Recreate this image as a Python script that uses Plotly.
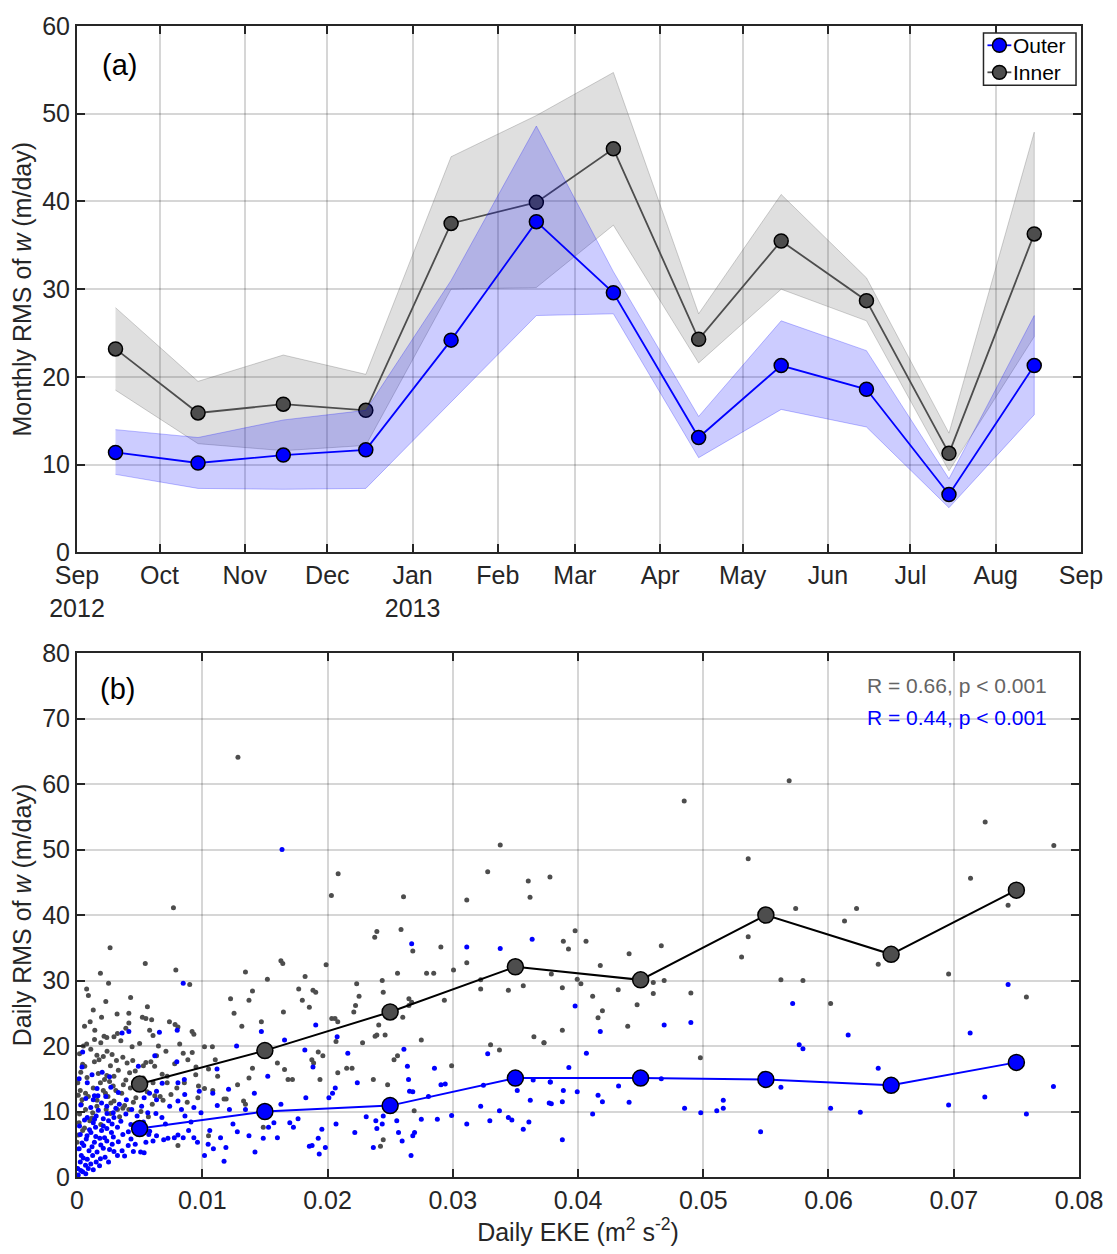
import plotly.graph_objects as go

# ---------------- (a) monthly RMS of w ----------------
months = ["2012-09-15", "2012-10-15", "2012-11-15", "2012-12-15", "2013-01-15", "2013-02-15",
          "2013-03-15", "2013-04-15", "2013-05-15", "2013-06-15", "2013-07-15", "2013-08-15"]

outer_rms = [11.4, 10.2, 11.1, 11.7, 24.2, 37.7, 29.6, 13.1, 21.3, 18.6, 6.6, 21.3]
outer_hi = [14.0, 13.1, 15.1, 16.2, 31.0, 48.6, 32.0, 15.5, 26.4, 23.0, 8.4, 27.0]
outer_lo = [8.9, 7.3, 7.2, 7.3, 17.2, 27.0, 27.2, 10.8, 16.3, 14.3, 5.1, 15.7]

inner_rms = [23.2, 15.9, 16.9, 16.2, 37.5, 39.9, 46.0, 24.3, 35.5, 28.7, 11.3, 36.3]
inner_hi = [27.9, 19.5, 22.5, 20.3, 45.1, 49.8, 54.7, 27.2, 40.8, 31.3, 13.6, 47.9]
inner_lo = [18.5, 12.4, 11.6, 12.2, 30.0, 30.2, 37.3, 21.6, 30.0, 26.4, 9.3, 24.6]

month_ticks = ["2012-09-01", "2012-10-01", "2012-11-01", "2012-12-01", "2013-01-01", "2013-02-01",
               "2013-03-01", "2013-04-01", "2013-05-01", "2013-06-01", "2013-07-01", "2013-08-01",
               "2013-09-01"]
month_labels = ["Sep<br>2012", "Oct", "Nov", "Dec", "Jan<br>2013", "Feb", "Mar", "Apr", "May",
                "Jun", "Jul", "Aug", "Sep"]

legend_names = ["Outer", "Inner"]

# ---------------- (b) daily RMS of w vs daily EKE ----------------
eke_bins = [0.005, 0.015, 0.025, 0.035, 0.045, 0.055, 0.065, 0.075]
inner_bin_rms = [14.2, 19.3, 25.2, 32.1, 30.1, 40.0, 34.0, 43.8]
outer_bin_rms = [7.4, 10.0, 10.9, 15.1, 15.1, 14.9, 14.0, 17.5]

inner_daily = [
    (0.00264, 35.0), (0.0077, 41.1), (0.01285, 64.1), (0.02031, 43.0), (0.02085, 46.3),
    (0.02377, 36.6), (0.02394, 37.5), (0.02587, 37.8), (0.02607, 42.8), (0.02681, 34.5),
    (0.02905, 35.1), (0.03112, 42.3), (0.03279, 46.6), (0.03379, 50.7), (0.03603, 45.2),
    (0.03617, 42.7), (0.03776, 45.8), (0.04848, 57.4), (0.05686, 60.5), (0.05359, 48.6),
    (0.07251, 54.2), (0.07799, 50.6), (0.07134, 45.6), (0.07434, 41.5), (0.05738, 41.0),
    (0.06224, 41.0), (0.06128, 39.1), (0.03883, 36.0), (0.03977, 37.6), (0.04064, 36.0),
    (0.03924, 34.8), (0.04408, 34.1), (0.04665, 35.3), (0.05359, 36.7), (0.05306, 33.6),
    (0.03787, 31.0), (0.03994, 30.2), (0.04023, 29.5), (0.03875, 28.9), (0.04117, 27.6),
    (0.04321, 28.6), (0.0416, 24.3), (0.04195, 25.4), (0.03875, 22.4), (0.04397, 23.0),
    (0.04472, 26.3), (0.04178, 32.3), (0.04601, 29.7), (0.04688, 30.0), (0.04601, 28.0),
    (0.04901, 28.1), (0.03729, 20.5), (0.04977, 18.2), (0.0562, 30.1), (0.05796, 30.0),
    (0.06017, 26.5), (0.06397, 32.5), (0.06959, 31.0), (0.0758, 27.5),
    (0.00545, 32.6), (0.00077, 28.7), (0.00091, 27.7), (0.00187, 31.1), (0.00252, 29.6),
    (0.00428, 27.4), (0.00789, 31.6), (0.009, 29.4), (0.00105, 23.7), (0.00196, 24.4),
    (0.00142, 22.4), (0.00216, 21.5), (0.00238, 21.3), (0.00295, 21.4), (0.00323, 21.9),
    (0.00414, 25.0), (0.00414, 23.5), (0.00522, 24.4), (0.0055, 24.2), (0.00562, 26.0),
    (0.00596, 24.0), (0.00607, 21.6), (0.00919, 22.2), (0.00933, 21.8), (0.00806, 22.9),
    (0.00738, 23.7), (0.00783, 23.3), (0.00051, 20.0), (0.00077, 20.3), (0.00062, 16.9),
    (0.00045, 17.2), (0.00139, 17.6), (0.00159, 18.6), (0.0021, 18.4), (0.00176, 17.9),
    (0.00267, 17.0), (0.00238, 15.5), (0.00295, 15.4), (0.00315, 17.8), (0.00366, 18.3),
    (0.004, 17.4), (0.00445, 17.8), (0.00465, 16.2), (0.0055, 17.5), (0.0059, 17.6),
    (0.00635, 18.5), (0.00006, 14.4), (0.00026, 13.2), (0.00068, 12.8), (0.0013, 13.6),
    (0.00187, 14.4), (0.00227, 12.8), (0.00247, 12.3), (0.00289, 13.9), (0.00295, 11.6),
    (0.00357, 12.8), (0.0038, 10.9), (0.00426, 13.6), (0.00499, 13.8), (0.00528, 15.1),
    (0.00607, 14.4), (0.00621, 12.4), (0.00687, 11.7), (0.00664, 12.3), (0.00601, 11.1),
    (0.00034, 11.1), (0.00068, 10.3), (0.00125, 9.8), (0.00159, 10.8), (0.00233, 10.3),
    (0.00267, 9.7), (0.00323, 10.3), (0.00366, 10.5), (0.00414, 10.3), (0.00017, 8.3),
    (0.00045, 7.1), (0.00011, 6.4), (0.0, 5.3), (0.00102, 8.6), (0.01018, 19.9),
    (0.01081, 19.9), (0.0105, 16.5), (0.01104, 17.9), (0.00948, 15.6), (0.0097, 13.9),
    (0.01018, 13.5), (0.01084, 13.2), (0.00885, 17.9), (0.00848, 18.9), (0.00965, 12.1),
    (0.00857, 14.4), (0.00797, 13.6), (0.0072, 14.4), (0.0072, 15.4), (0.01123, 15.4),
    (0.01174, 11.9), (0.01191, 11.9), (0.01226, 27.2), (0.01254, 25.0), (0.01345, 31.3),
    (0.01373, 27.0), (0.01401, 28.4), (0.01472, 23.7), (0.0152, 30.2), (0.01316, 23.0),
    (0.01401, 16.6), (0.01282, 14.1), (0.01373, 15.1), (0.0133, 11.6), (0.01345, 11.1),
    (0.016, 17.4), (0.01648, 25.2), (0.01657, 16.4), (0.01685, 14.9), (0.0172, 14.9),
    (0.01628, 33.0), (0.01643, 32.6), (0.0177, 28.7), (0.01799, 27.0), (0.01821, 30.6),
    (0.01855, 25.9), (0.01884, 28.5), (0.01906, 28.2), (0.01875, 17.9), (0.01889, 17.4),
    (0.01926, 19.1), (0.01963, 18.5), (0.0194, 14.9), (0.01989, 32.4), (0.02034, 24.2),
    (0.0206, 24.2), (0.02068, 20.7), (0.02082, 23.7), (0.02082, 15.9), (0.0221, 25.2),
    (0.02224, 26.2), (0.02233, 29.5), (0.02252, 27.6), (0.02196, 16.6), (0.0228, 20.5),
    (0.0238, 21.5), (0.02394, 21.7), (0.0246, 21.7), (0.02366, 14.9), (0.02437, 30.0),
    (0.02445, 28.2), (0.0248, 14.1), (0.02531, 17.9), (0.02559, 18.5), (0.02559, 31.1),
    (0.02601, 24.4), (0.0265, 27.2), (0.0265, 26.2), (0.02672, 26.7), (0.02692, 10.1),
    (0.02749, 20.9), (0.02791, 31.1), (0.02848, 31.1), (0.02933, 27.0), (0.02991, 17.0),
    (0.03006, 31.6), (0.03112, 32.7), (0.03223, 30.1), (0.03223, 28.7), (0.03302, 20.2),
    (0.03373, 19.4), (0.03444, 28.5), (0.03563, 29.2), (0.03648, 21.4), (0.03728, 20.5),
    (0.02445, 5.7), (0.02423, 4.7), (0.02409, 23.2), (0.0105, 6.3), (0.00806, 4.8),
    (0.01487, 7.6), (0.02153, 16.6),
    (0.0003, 16.0), (0.0008, 15.2), (0.0011, 19.5), (0.0014, 21.0), (0.0017, 15.8),
    (0.0019, 20.5), (0.0021, 13.2), (0.0024, 19.2), (0.0026, 14.6), (0.0028, 18.7),
    (0.0031, 13.2), (0.0033, 16.3), (0.0035, 20.8), (0.0037, 14.1), (0.0039, 22.7),
    (0.0042, 15.9), (0.0044, 19.9), (0.0047, 12.1), (0.005, 20.4), (0.0053, 17.0),
    (0.0056, 13.0), (0.0058, 22.4), (0.0062, 16.9), (0.0065, 20.0), (0.0068, 15.7),
    (0.0071, 19.2), (0.0075, 12.6), (0.0078, 17.3), (0.0082, 20.3), (0.0088, 11.4),
    (0.0092, 19.0), (0.0095, 16.8), (0.0004, 11.8), (0.0009, 12.3), (0.0012, 9.0),
    (0.0016, 11.7), (0.0019, 8.0), (0.0022, 14.9), (0.0027, 11.3), (0.0034, 9.2),
    (0.0039, 14.8), (0.0045, 11.4), (0.0051, 10.0), (0.0057, 9.2), (0.0002, 9.6),
    (0.0006, 7.5), (0.0001, 12.5), (0.0013, 25.5), (0.0023, 26.8), (0.0032, 24.9),
    (0.0006, 23.0), (0.0002, 18.8),
]

outer_daily = [
    (0.01637, 50.0), (0.02672, 35.6), (0.03112, 35.1), (0.03379, 34.9), (0.03634, 36.3),
    (0.03977, 26.1), (0.04178, 22.2), (0.04688, 23.2), (0.04901, 23.6), (0.04067, 18.9),
    (0.03927, 16.7), (0.03778, 14.5), (0.03883, 13.2), (0.03994, 13.0), (0.03787, 11.2),
    (0.03875, 11.5), (0.0416, 12.5), (0.04195, 11.5), (0.04117, 9.6), (0.04324, 13.9),
    (0.04408, 11.4), (0.04665, 15.0), (0.04851, 10.5), (0.0498, 9.8), (0.05108, 10.1),
    (0.0516, 10.5), (0.0516, 11.7), (0.03875, 5.7), (0.05458, 6.9), (0.0562, 13.7),
    (0.05714, 26.5), (0.05766, 20.2), (0.05796, 19.6), (0.06157, 21.7), (0.06017, 10.5),
    (0.06254, 9.9), (0.06397, 16.6), (0.06959, 11.0), (0.07131, 22.0), (0.07248, 12.2),
    (0.07434, 29.4), (0.0758, 9.6), (0.07796, 13.8),
    (0.00006, 1.3), (0.00026, 2.3), (0.00045, 0.8), (0.00068, 1.8), (0.00034, 3.3),
    (0.00082, 2.7), (0.00017, 4.3), (0.00054, 4.8), (0.00096, 4.0), (0.00125, 3.3),
    (0.00153, 2.3), (0.00187, 2.8), (0.00224, 3.0), (0.00252, 2.3), (0.00295, 3.9),
    (0.00323, 3.3), (0.0038, 3.2), (0.00139, 5.3), (0.00182, 5.9), (0.00238, 5.5),
    (0.00281, 5.0), (0.00074, 5.8), (0.00026, 6.5), (0.00111, 6.8), (0.00148, 7.6),
    (0.00196, 7.1), (0.00238, 7.4), (0.00275, 6.8), (0.00323, 7.6), (0.00366, 6.5),
    (0.00409, 4.8), (0.00431, 5.8), (0.00465, 5.0), (0.00508, 3.8), (0.00536, 3.7),
    (0.0055, 5.3), (0.00607, 5.5), (0.00573, 6.5), (0.00635, 6.3), (0.00692, 5.7),
    (0.00726, 5.9), (0.00777, 6.0), (0.00806, 6.4), (0.00848, 6.0), (0.00891, 7.1),
    (0.00933, 6.0), (0.00962, 5.3), (0.01018, 3.3), (0.01047, 5.0), (0.01089, 4.3),
    (0.01174, 2.4), (0.01189, 4.5), (0.01146, 6.0), (0.00082, 9.1), (0.0013, 8.3),
    (0.00153, 9.3), (0.0021, 8.9), (0.00252, 8.6), (0.00295, 9.1), (0.0013, 11.8),
    (0.00167, 12.4), (0.00196, 11.3), (0.00238, 10.8), (0.00289, 9.8), (0.00338, 11.1),
    (0.00394, 11.8), (0.00437, 10.3), (0.0048, 9.3), (0.00516, 10.8), (0.00536, 12.1),
    (0.00565, 9.8), (0.00579, 12.8), (0.00635, 11.8), (0.00678, 9.1), (0.00706, 8.1),
    (0.00806, 11.6), (0.00834, 10.3), (0.00862, 9.3), (0.00933, 10.6), (0.00017, 15.0),
    (0.00082, 14.4), (0.00139, 12.4), (0.00201, 16.0), (0.0036, 22.0), (0.00414, 22.2),
    (0.00658, 22.1), (0.00621, 18.5), (0.008, 22.4), (0.00797, 17.6), (0.00806, 14.4),
    (0.00857, 14.9), (0.00848, 29.6), (0.00045, 19.1), (0.00635, 13.1), (0.00976, 13.1),
    (0.01084, 12.8), (0.01118, 16.5), (0.01217, 10.3), (0.01245, 8.1), (0.01274, 20.0),
    (0.01345, 10.3), (0.01373, 6.3), (0.01416, 12.8), (0.01421, 3.8), (0.01472, 22.2),
    (0.01487, 5.9), (0.01523, 15.4), (0.01529, 7.6), (0.01572, 8.3), (0.016, 6.0),
    (0.01628, 11.1), (0.01657, 20.9), (0.01699, 8.3), (0.01728, 7.6), (0.01765, 8.9),
    (0.01819, 19.4), (0.01827, 12.1), (0.01855, 4.7), (0.01877, 4.8), (0.01884, 16.8),
    (0.01906, 23.2), (0.01926, 5.9), (0.01934, 3.5), (0.01955, 7.3), (0.01983, 4.5),
    (0.02011, 12.1), (0.0204, 12.8), (0.02062, 13.6), (0.02077, 21.4), (0.02068, 8.1),
    (0.02162, 18.9), (0.02218, 6.8), (0.02238, 14.4), (0.02309, 9.2), (0.02366, 4.5),
    (0.02386, 8.6), (0.02394, 7.4), (0.02437, 8.1), (0.02445, 9.3), (0.02494, 10.8),
    (0.02553, 8.6), (0.02567, 6.8), (0.02596, 5.5), (0.0261, 19.5), (0.02638, 16.9),
    (0.02647, 14.9), (0.02655, 13.1), (0.02681, 13.0), (0.02667, 3.3), (0.02681, 6.3),
    (0.02695, 6.8), (0.02749, 8.8), (0.02806, 12.3), (0.02854, 16.6), (0.02877, 8.8),
    (0.02906, 14.1), (0.0294, 14.2), (0.02991, 9.4), (0.03112, 8.1), (0.03223, 10.8),
    (0.03245, 14.0), (0.03279, 18.8), (0.03296, 8.6), (0.03373, 10.1), (0.03444, 9.1),
    (0.03472, 8.7), (0.03515, 13.2), (0.03563, 7.3), (0.03608, 8.4), (0.03619, 11.7),
    (0.03642, 14.8), (0.03779, 14.5), (0.0377, 11.3),
    (0.0001, 0.3), (0.0003, 1.0), (0.0005, 2.9), (0.0007, 0.5), (0.0009, 1.3),
    (0.0011, 2.0), (0.0013, 1.1), (0.0016, 3.8), (0.0018, 1.7), (0.0021, 4.4),
    (0.0004, 5.2), (0.0008, 6.3), (0.0012, 4.6), (0.0015, 6.2), (0.0019, 4.9),
    (0.0022, 6.0), (0.0026, 4.2), (0.0029, 6.1), (0.0033, 5.4), (0.0036, 4.0),
    (0.0041, 6.9), (0.0045, 3.9), (0.0002, 7.8), (0.0006, 8.7), (0.001, 7.2),
    (0.0014, 8.8), (0.0017, 10.2), (0.0021, 7.8), (0.0024, 9.7), (0.0028, 8.1),
    (0.0031, 10.5), (0.0035, 8.5), (0.0039, 9.6), (0.0043, 8.0), (0.0047, 7.3),
    (0.0053, 8.4), (0.0058, 7.0), (0.0063, 9.7), (0.0003, 11.0), (0.0007, 12.0),
    (0.0011, 10.6), (0.0016, 13.5), (0.0023, 12.3), (0.0027, 13.7), (0.0033, 12.9),
    (0.0047, 13.9), (0.0053, 14.7), (0.0004, 16.8), (0.0012, 15.6), (0.0026, 15.3),
    (0.0049, 16.9), (0.0068, 14.3), (0.0074, 10.8), (0.0086, 12.6), (0.0091, 8.4),
    (0.0099, 9.8), (0.0106, 7.1), (0.0112, 10.9), (0.0121, 13.4), (0.0128, 6.9),
]

stats_inner = "R = 0.66, p < 0.001"
stats_outer = "R = 0.44, p < 0.001"

BLUE = "rgb(0,0,255)"
DARK = "#4d4d4d"
AX = "#262626"
FONT = "Liberation Sans, Arial, Helvetica, sans-serif"
FS = 25

fig = go.Figure()

# monthly bands and lines: inner band + line first, outer band drawn over them
fig.add_trace(go.Scatter(
    x=months + months[::-1], y=inner_hi + inner_lo[::-1], fill="toself",
    fillcolor="rgba(77,77,77,0.18)", line=dict(color="rgba(77,77,77,0.25)", width=1),
    mode="lines", hoverinfo="skip", showlegend=False, xaxis="x", yaxis="y"))
fig.add_trace(go.Scatter(
    x=months, y=inner_rms, mode="lines+markers", name=legend_names[1],
    line=dict(color=DARK, width=1.8),
    marker=dict(size=14, color=DARK, line=dict(color="black", width=1.5)),
    showlegend=False, xaxis="x", yaxis="y"))
fig.add_trace(go.Scatter(
    x=months + months[::-1], y=outer_hi + outer_lo[::-1], fill="toself",
    fillcolor="rgba(0,0,255,0.2)", line=dict(color="rgba(0,0,255,0.25)", width=1),
    mode="lines", hoverinfo="skip", showlegend=False, xaxis="x", yaxis="y"))
fig.add_trace(go.Scatter(
    x=months, y=outer_rms, mode="lines+markers", name=legend_names[0],
    line=dict(color=BLUE, width=1.8),
    marker=dict(size=14, color=BLUE, line=dict(color="black", width=1.5)),
    showlegend=False, xaxis="x", yaxis="y"))

# daily scatter
fig.add_trace(go.Scatter(
    x=[p[0] for p in inner_daily], y=[p[1] for p in inner_daily], mode="markers",
    marker=dict(size=5, color="#4d4d4d"), showlegend=False, xaxis="x2", yaxis="y2"))
fig.add_trace(go.Scatter(
    x=[p[0] for p in outer_daily], y=[p[1] for p in outer_daily], mode="markers",
    marker=dict(size=5, color=BLUE), showlegend=False, xaxis="x2", yaxis="y2"))

# binned means
fig.add_trace(go.Scatter(
    x=eke_bins, y=inner_bin_rms, mode="lines+markers", line=dict(color="black", width=2),
    marker=dict(size=16, color=DARK, line=dict(color="black", width=1.5)),
    showlegend=False, xaxis="x2", yaxis="y2"))
fig.add_trace(go.Scatter(
    x=eke_bins, y=outer_bin_rms, mode="lines+markers", line=dict(color=BLUE, width=2),
    marker=dict(size=16, color=BLUE, line=dict(color="black", width=1.5)),
    showlegend=False, xaxis="x2", yaxis="y2"))

axis_style = dict(
    showline=True, linecolor=AX, linewidth=2, mirror="ticks",
    ticks="inside", ticklen=8, tickwidth=1.5, tickcolor=AX,
    showgrid=True, gridcolor="rgba(0,0,0,0.16)", gridwidth=1.5,
    zeroline=False, tickfont=dict(size=FS, color=AX, family=FONT),
)

fig.update_layout(
    width=1117, height=1254,
    margin=dict(l=77, r=31, t=19, b=72),
    paper_bgcolor="white", plot_bgcolor="white",
    font=dict(family=FONT, color=AX, size=FS),
    showlegend=False,
    xaxis=dict(axis_style, type="date", domain=[0, 1], anchor="y",
               range=["2012-09-01", "2013-09-01"],
               tickmode="array", tickvals=month_ticks, ticktext=month_labels),
    yaxis=dict(axis_style, domain=[0.5426, 1.0], anchor="x", range=[0, 60], dtick=10,
               title=dict(text="Monthly RMS of <i>w</i> (m/day)", standoff=3,
                          font=dict(size=FS, color=AX))),
    xaxis2=dict(axis_style, domain=[0, 0.998], anchor="y2", range=[0, 0.08], dtick=0.01,
                title=dict(text="Daily EKE (m<sup>2</sup> s<sup>-2</sup>)", standoff=10,
                           font=dict(size=FS, color=AX))),
    yaxis2=dict(axis_style, domain=[0, 0.4552], anchor="x2", range=[0, 80], dtick=10,
                title=dict(text="Daily RMS of <i>w</i> (m/day)", standoff=3,
                           font=dict(size=FS, color=AX))),
)

# legend box for panel (a), placed in the axis domain of the top panel
PW, PH = 1009.0, 532.0   # top panel size in pixels
def dx(px):
    return (px - 77) / PW
def dy(py):
    return 1 - (py - 19) / PH

LEG_FS = 21
row_gap = LEG_FS * 1.3
row_top = 38.5
legend_rows = [row_top, row_top + row_gap]
legend_cols = [BLUE, DARK]

shapes = [dict(type="rect", xref="x domain", yref="y domain",
               x0=dx(988), x1=dx(1081), y0=dy(row_top + row_gap + 13), y1=dy(26),
               fillcolor="white", line=dict(color=AX, width=1.5), layer="above")]
for row_y, col in zip(legend_rows, legend_cols):
    shapes.append(dict(type="line", xref="x domain", yref="y domain",
                       x0=dx(992), x1=dx(1016), y0=dy(row_y), y1=dy(row_y),
                       line=dict(color=col, width=1.8), layer="above"))
    shapes.append(dict(type="circle", xref="x domain", yref="y domain",
                       x0=dx(997), x1=dx(1011), y0=dy(row_y + 7), y1=dy(row_y - 7),
                       fillcolor=col, line=dict(color="black", width=1.5), layer="above"))
fig.update_layout(shapes=shapes)
fig.add_annotation(text="<br>".join(legend_names), xref="x domain", yref="y domain",
                   x=dx(1016), y=dy(row_top + row_gap / 2), xanchor="left", yanchor="middle",
                   align="left", showarrow=False,
                   font=dict(size=LEG_FS, color="black", family=FONT))

fig.add_annotation(text="(a)", xref="x domain", yref="y domain", x=0.042, y=0.925,
                   xanchor="center", yanchor="middle",
                   showarrow=False, font=dict(size=29, color="black", family=FONT))
fig.add_annotation(text="(b)", xref="x2 domain", yref="y2 domain", x=0.0407, y=0.932,
                   xanchor="center", yanchor="middle",
                   showarrow=False, font=dict(size=29, color="black", family=FONT))
fig.add_annotation(text=stats_inner, xref="x2", yref="y2", x=0.0776, y=75.1,
                   xanchor="right", showarrow=False,
                   font=dict(size=21, color="#646464", family=FONT))
fig.add_annotation(text=stats_outer, xref="x2", yref="y2", x=0.0776, y=70.2,
                   xanchor="right", showarrow=False,
                   font=dict(size=21, color=BLUE, family=FONT))

fig.write_html("out.html")
